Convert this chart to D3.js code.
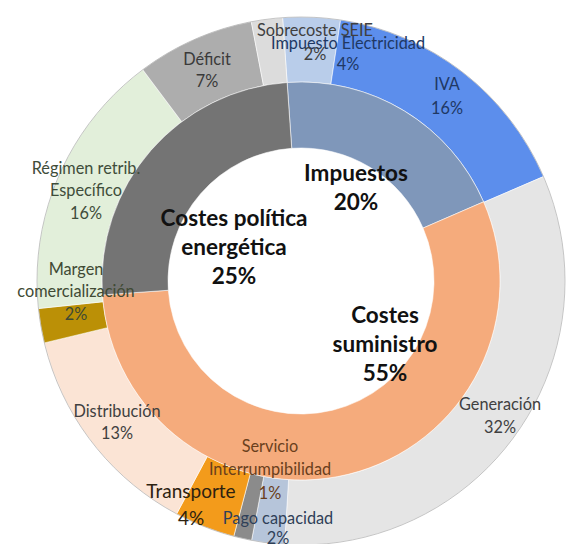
<!DOCTYPE html>
<html>
<head>
<meta charset="utf-8">
<script src="https://cdn.jsdelivr.net/npm/d3@7"></script>
<style>
  html, body { margin: 0; padding: 0; background: #fff; }
  svg { display: block; }
</style>
</head>
<body>
<svg id="chart" width="571" height="544"></svg>
<script>
// ---------- DATA ----------
// Inner ring (groups)
const innerNames = ["Impuestos", "Costes suministro", "Costes política energética"];
const innerValues = [19.6, 55.4, 25.0];

// Outer ring (components), clockwise from the top
const outerNames = [
  "Impuesto Electricidad", "IVA", "Generación", "Pago capacidad",
  "Servicio Interrumpibilidad", "Transporte", "Distribución",
  "Margen comercialización", "Régimen retrib. Específico", "Déficit", "Sobrecoste SEIE"
];
const outerValues = [3.5, 16.1, 32.4, 2.0, 1.1, 3.7, 13.4, 2.1, 16.4, 7.2, 1.9];

// ---------- STYLE / LAYOUT ----------
const innerColors = ["#7f97ba", "#f5ab7c", "#747474"];
const outerColors = ["#b9cdea", "#5c8eec", "#e5e5e5", "#b6c5da", "#8b8b8b", "#f39b1b",
                     "#fbe4d5", "#bb9006", "#e2efda", "#adadad", "#dcdcdc"];
const outerTextColors = ["#203864", "#203864", "#404040", "#2f4058", "#6a3f1c", "#2e2210",
                         "#404040", "#404a34", "#3f4d3a", "#3a3a3a", "#404040"];
// label line breaks
const outerLines = [
  ["Impuesto Electricidad"], ["IVA"], ["Generación"], ["Pago capacidad"],
  ["Servicio", "Interrumpibilidad"], ["Transporte"], ["Distribución"],
  ["Margen", "comercialización"], ["Régimen retrib.", "Específico"], ["Déficit"], ["Sobrecoste SEIE"]
];
const innerLines = [["Impuestos"], ["Costes", "suministro"], ["Costes política", "energética"]];
// label anchor offsets from the centre (first line), and line spacing
const outerLabelPos = [[47, -239], [146, -198], [199, 122], [-23, 236], [-31, 164], [-110, 209],
                       [-184, 129], [-225, -13], [-215, -114], [-94, -223], [14, -252]];
const outerLineGap = [21, 24, 23, 20, 23.5, 27, 22, 22.5, 22.5, 22, 24];
const innerLabelPos = [[55, -109], [84, 33], [-67, -64]];
const innerLineGap = 29;

const W = 571, H = 544;
const cx = 301, cy = 281;
const rHole = 133, rMid = 199, rOuter = 264;
const start = -4 * Math.PI / 180;

const svg = d3.select("#chart");
const g = svg.append("g").attr("transform", `translate(${cx},${cy})`);

const pie = d3.pie().sort(null).value(d => d.value)
  .startAngle(start).endAngle(start + 2 * Math.PI);

const innerData = pie(innerNames.map((n, i) => ({ name: n, value: innerValues[i], i })));
const outerData = pie(outerNames.map((n, i) => ({ name: n, value: outerValues[i], i })));

const arcInner = d3.arc().innerRadius(rHole).outerRadius(rMid);
const arcOuter = d3.arc().innerRadius(rMid).outerRadius(rOuter);

g.selectAll("path.outer").data(outerData).join("path")
  .attr("class", "outer")
  .attr("d", arcOuter)
  .attr("fill", d => outerColors[d.data.i])
  .attr("stroke", "#ffffff").attr("stroke-opacity", 0.7).attr("stroke-width", 0.8);

g.selectAll("path.inner").data(innerData).join("path")
  .attr("class", "inner")
  .attr("d", arcInner)
  .attr("fill", d => innerColors[d.data.i])
  .attr("stroke", "#ffffff").attr("stroke-opacity", 0.7).attr("stroke-width", 0.8);

// faint outline around the outer edge
g.append("circle").attr("r", rOuter).attr("fill", "none")
  .attr("stroke", "#9a9a9a").attr("stroke-width", 0.8).attr("stroke-opacity", 0.7);

const font = "Lato, 'Open Sans', sans-serif";

// Outer labels
outerData.forEach(d => {
  const i = d.data.i;
  const lines = outerLines[i].concat([Math.round(d.data.value) + "%"]);
  const [dx, dy] = outerLabelPos[i];
  const t = g.append("text")
    .attr("text-anchor", "middle")
    .attr("font-family", font)
    .attr("font-size", i === 5 ? 19 : 16.3)
    .attr("fill", outerTextColors[i]);
  lines.forEach((ln, k) => {
    t.append("tspan").attr("x", dx).attr("y", dy + k * outerLineGap[i])
      .attr("dominant-baseline", "central").text(ln);
  });
});

// Inner labels
innerData.forEach(d => {
  const i = d.data.i;
  const lines = innerLines[i].concat([Math.round(d.data.value) + "%"]);
  const [dx, dy] = innerLabelPos[i];
  const t = g.append("text")
    .attr("text-anchor", "middle")
    .attr("font-family", font)
    .attr("font-weight", "bold")
    .attr("font-size", 22.5)
    .attr("fill", "#111");
  lines.forEach((ln, k) => {
    t.append("tspan").attr("x", dx).attr("y", dy + k * innerLineGap)
      .attr("dominant-baseline", "central").text(ln);
  });
});
</script>
</body>
</html>
